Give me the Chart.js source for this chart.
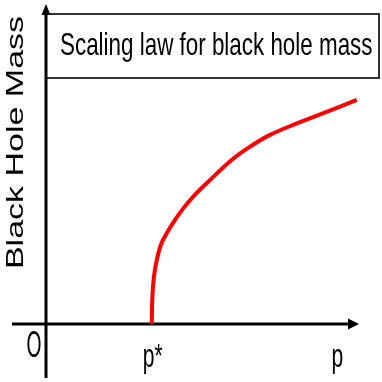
<!DOCTYPE html>
<html>
<head>
<meta charset="utf-8">
<script src="https://cdn.jsdelivr.net/npm/chart.js@4"></script>
<style>
html, body { margin: 0; padding: 0; background: #fff; }
</style>
</head>
<body>
<canvas id="scalingChart" width="382" height="382"></canvas>
<script>
// critical parameter and curve
const pStar = 3.39;
const pValues = [3.39, 3.41, 3.46, 3.55, 3.68, 3.87, 4.13, 4.40, 4.72, 5.20, 5.95, 6.54, 7.18, 8.04, 8.89, 9.96];
const massValues = [0, 0.88, 1.53, 2.06, 2.55, 2.93, 3.35, 3.73, 4.11, 4.59, 5.29, 5.72, 6.10, 6.47, 6.80, 7.23];
const tickLabels = ['O', 'p*', 'p'];
const tickValues = [0, pStar, 9.34];
const titleText = 'Scaling law for black hole mass';
const yTitle = 'Black Hole Mass';

const FONT = '"Liberation Sans", Arial, sans-serif';

// text in the picture is squeezed sideways, so draw it with a scale
function drawText(ctx, str, x, y, size, sx, sy, align, rotate) {
    ctx.save();
    ctx.translate(x, y);
    if (rotate) ctx.rotate(-Math.PI / 2);
    ctx.scale(sx, sy);
    ctx.font = size + 'px ' + FONT;
    ctx.fillStyle = '#000';
    ctx.textAlign = align;
    ctx.textBaseline = 'alphabetic';
    ctx.fillText(str, 0, 0);
    ctx.restore();
}

const sketchPlugin = {
    id: 'sketch',
    beforeDatasetsDraw(chart) {
        const ctx = chart.ctx;
        const x0 = chart.scales.x.getPixelForValue(0);
        const y0 = chart.scales.y.getPixelForValue(0);
        ctx.save();
        // title box
        ctx.strokeStyle = '#333';
        ctx.lineWidth = 2;
        ctx.strokeRect(x0, 14, 379 - x0, 64);
        // axes
        ctx.strokeStyle = '#000';
        ctx.fillStyle = '#000';
        ctx.lineWidth = 3;
        ctx.beginPath();
        ctx.moveTo(x0, 378);
        ctx.lineTo(x0, 13);
        ctx.moveTo(12, y0);
        ctx.lineTo(350, y0);
        ctx.stroke();
        // arrow heads
        ctx.beginPath();
        ctx.moveTo(x0, 4);
        ctx.lineTo(x0 + 4.5, 15);
        ctx.lineTo(x0 - 4.5, 15);
        ctx.closePath();
        ctx.fill();
        ctx.beginPath();
        ctx.moveTo(359, y0);
        ctx.lineTo(348, y0 - 5.5);
        ctx.lineTo(348, y0 + 5.5);
        ctx.closePath();
        ctx.fill();
        ctx.restore();
    },
    afterDraw(chart) {
        const ctx = chart.ctx;
        const xs = chart.scales.x;
        drawText(ctx, titleText, 60, 55, 32, 0.7, 1, 'left', false);
        drawText(ctx, yTitle, 23, 142.5, 34, 1, 0.7, 'center', true);
        drawText(ctx, tickLabels[0], xs.getPixelForValue(tickValues[0]) - 12, 357, 37, 0.52, 1, 'center', false);
        drawText(ctx, tickLabels[1], xs.getPixelForValue(tickValues[1]) - 9, 367, 34, 0.62, 1, 'left', false);
        drawText(ctx, tickLabels[2], xs.getPixelForValue(tickValues[2]), 367, 34, 0.62, 1, 'center', false);
    }
};

const ctx = document.getElementById('scalingChart').getContext('2d');
const scalingChart = new Chart(ctx, {
    type: 'line',
    data: {
        datasets: [{
            data: pValues.map((p, i) => ({ x: p, y: massValues[i] })),
            borderColor: '#ff0000',
            borderWidth: 4,
            pointRadius: 0,
            tension: 0.4,
            fill: false,
            clip: false
        }]
    },
    options: {
        responsive: false,
        animation: false,
        layout: { padding: { left: 46, right: 24, top: 14, bottom: 58 } },
        plugins: { legend: { display: false }, tooltip: { enabled: false } },
        scales: {
            x: { type: 'linear', min: 0, max: 10, display: false },
            y: { min: 0, max: 10, display: false }
        }
    },
    plugins: [sketchPlugin]
});
</script>
</body>
</html>
